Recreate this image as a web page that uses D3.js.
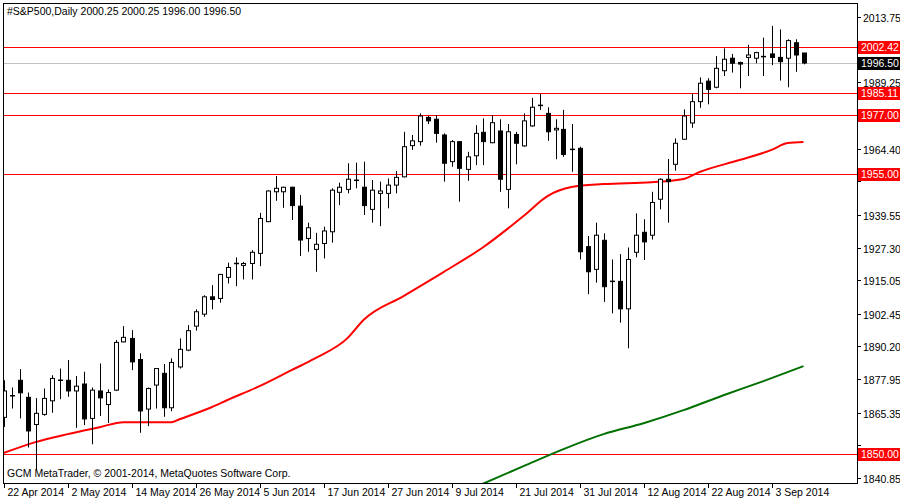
<!DOCTYPE html>
<html><head><meta charset="utf-8">
<script src="https://cdn.jsdelivr.net/npm/d3@7"></script>
<style>body{margin:0;background:#fff}svg{display:block}</style>
</head><body><svg id="c" width="900" height="500"></svg>
<script>
// OHLC per daily bar (index 0 = 22 Apr 2014)
const opens=[1863.6,1871.7,1877.5,1871.1,1860.9,1864.7,1869.8,1877.3,1877.5,1873.5,1876.1,1863.2,1873.5,1868.4,1873.8,1891.9,1893.2,1885.3,1866.7,1875.7,1880.1,1867.2,1882.5,1888.8,1897.8,1902.3,1908.8,1908.2,1916.1,1921.3,1920.6,1921.3,1925.1,1937.0,1948.2,1948.2,1949.9,1942.8,1930.7,1926.6,1928.8,1933.2,1948.0,1949.1,1952.3,1949.9,1941.6,1947.6,1947.6,1950.7,1953.8,1965.5,1967.0,1976.1,1975.4,1969.5,1959.5,1967.0,1956.6,1961.7,1970.5,1966.6,1971.0,1949.1,1969.7,1965.4,1972.9,1980.6,1977.6,1971.4,1971.6,1964.1,1964.5,1927.6,1919.1,1930.0,1914.6,1914.6,1904.3,1925.5,1933.0,1931.9,1945.4,1952.9,1958.5,1967.9,1974.0,1982.0,1989.7,1987.4,1993.6,1998.3,1996.7,1998.6,1998.3,1998.9,1999.9,1998.6,1998.3,2004.1,2000.25];
const highs=[1877.5,1874.8,1881.7,1872.9,1870.8,1874.4,1879.4,1881.9,1885.1,1879.1,1880.7,1874.8,1883.8,1874.1,1892.6,1897.8,1896.3,1887.6,1874.8,1882.0,1883.6,1885.7,1893.2,1898.2,1904.1,1909.4,1913.2,1917.4,1921.6,1923.6,1921.9,1926.3,1940.3,1948.7,1954.1,1950.1,1950.1,1947.0,1936.6,1932.8,1935.1,1949.5,1951.6,1958.9,1959.1,1959.5,1952.6,1952.0,1953.2,1956.0,1970.7,1969.5,1977.6,1976.7,1977.0,1970.1,1967.6,1967.2,1963.2,1973.2,1975.7,1977.0,1975.4,1973.6,1970.7,1977.6,1983.4,1984.9,1979.9,1975.4,1978.9,1973.6,1965.1,1931.6,1936.6,1932.6,1922.8,1924.8,1927.3,1940.1,1937.9,1948.2,1953.2,1960.5,1968.2,1979.1,1985.1,1991.1,1990.8,1999.1,2002.0,1999.9,1997.0,2003.3,2000.7,2006.0,2010.4,2009.1,2005.4,2005.4,2000.25];
const lows=[1860.0,1866.9,1863.2,1852.3,1843.8,1864.2,1865.3,1870.4,1871.3,1859.7,1860.7,1853.5,1864.1,1861.5,1873.5,1891.7,1881.3,1857.8,1860.3,1866.9,1863.8,1865.9,1881.9,1888.4,1896.1,1901.3,1904.1,1906.6,1913.8,1912.8,1915.3,1915.3,1920.3,1936.8,1944.8,1942.2,1937.6,1924.1,1925.7,1918.2,1923.2,1929.1,1943.2,1947.6,1949.5,1939.5,1936.6,1935.3,1942.0,1947.6,1953.6,1963.9,1965.5,1973.6,1966.6,1952.0,1957.6,1944.5,1952.3,1958.2,1958.2,1966.4,1948.2,1942.0,1958.5,1965.1,1972.6,1978.9,1967.3,1960.4,1961.3,1955.7,1922.8,1909.8,1914.1,1906.9,1902.6,1899.1,1889.5,1923.6,1922.6,1930.3,1941.6,1936.6,1956.1,1967.7,1972.2,1979.7,1981.0,1987.0,1991.6,1992.9,1987.0,1991.6,1996.4,1991.6,1995.7,1989.9,1987.4,1993.2,1996.00];
const closes=[1873.5,1871.5,1872.8,1858.5,1865.1,1870.7,1878.2,1877.5,1873.5,1875.3,1863.0,1873.8,1870.9,1872.9,1891.7,1893.6,1884.4,1866.0,1874.4,1881.9,1867.2,1884.2,1889.1,1896.1,1903.2,1908.8,1907.8,1917.2,1919.8,1920.8,1921.3,1925.5,1938.2,1948.5,1949.5,1949.9,1943.0,1930.1,1934.7,1928.5,1933.5,1948.8,1949.9,1952.9,1952.5,1943.0,1948.8,1948.5,1950.7,1953.6,1965.1,1967.3,1976.6,1974.8,1970.1,1958.9,1967.0,1957.0,1961.3,1970.1,1967.0,1974.1,1952.9,1970.7,1966.4,1974.8,1979.9,1980.4,1970.7,1972.0,1962.2,1964.0,1925.7,1918.2,1931.9,1912.6,1914.5,1904.3,1922.8,1931.9,1929.4,1944.2,1952.9,1952.0,1966.4,1976.6,1982.0,1988.9,1986.6,1994.5,1997.9,1996.4,1996.1,1999.5,2000.4,1998.8,1998.6,1997.0,2004.9,1999.5,1996.50];
// moving averages read at bar indices
const redMaBars=[0,4,8,12,15,21,22,26,28,32,36,39,43,45,50,55,60,65,68,71,75,81,85,87,92,96,98,100];
const redMaVals=[1850.2,1854.3,1857.3,1859.9,1861.8,1861.8,1862.9,1867.4,1870.1,1875.3,1881.3,1885.8,1893.3,1900.1,1909.1,1918.1,1927.5,1939.1,1946.6,1950.0,1951.1,1951.8,1953.0,1955.6,1960.1,1963.9,1966.5,1966.9];
const greenMaBars=[59,65,70,75,80,85,90,95,100];
const greenMaVals=[1837.5,1845.3,1851.7,1857.3,1861.4,1866.3,1871.9,1877.2,1882.8];
const levels=[2002.42,1985.11,1977.00,1955.00,1850.00];
const lastPrice=1996.50;
const priceTicks=[2013.75,2001.50,1989.25,1977.00,1964.40,1952.15,1939.55,1927.30,1915.05,1902.45,1890.20,1877.95,1865.35,1853.10,1840.85];
const dateLabels=["22 Apr 2014","2 May 2014","14 May 2014","26 May 2014","5 Jun 2014","17 Jun 2014","27 Jun 2014","9 Jul 2014","21 Jul 2014","31 Jul 2014","12 Aug 2014","22 Aug 2014","3 Sep 2014"];
const dateBars=[0,8,16,24,32,40,48,56,64,72,80,88,96];
const title="#S&P500,Daily  2000.25 2000.25 1996.00 1996.50";
const copyright="GCM MetaTrader, © 2001-2014, MetaQuotes Software Corp.";

const svg=d3.select("#c");
const L=3,R=857,T=3,B=483;
const font="'Liberation Sans', Arial, sans-serif";
const fs=10.5;
const x=d3.scaleLinear().domain([0,100]).range([3.5,803.5]);
const y=d3.scaleLinear().domain([1840.85,2013.75]).range([478,17]);
svg.append("clipPath").attr("id","pc").append("rect").attr("x",L).attr("y",T).attr("width",R-L).attr("height",B-T);
const g=svg.append("g").attr("clip-path","url(#pc)");

g.append("line").attr("x1",L).attr("x2",R).attr("y1",Math.round(y(lastPrice))+0.5).attr("y2",Math.round(y(lastPrice))+0.5).attr("stroke","#c0c0c0");
levels.forEach(v=>g.append("line").attr("x1",L).attr("x2",R).attr("y1",Math.round(y(v))+0.5).attr("y2",Math.round(y(v))+0.5).attr("stroke","#ff0000"));

const line=d3.line().x(d=>x(d[0])).y(d=>y(d[1])).curve(d3.curveMonotoneX);
g.append("path").attr("d",line(redMaBars.map((b,i)=>[b,redMaVals[i]]))).attr("fill","none").attr("stroke","#ff0000").attr("stroke-width",2);
g.append("path").attr("d",line(greenMaBars.map((b,i)=>[b,greenMaVals[i]]))).attr("fill","none").attr("stroke","#007000").attr("stroke-width",2);

opens.forEach((o,i)=>{
  const cx=Math.round(x(i))+0.5, c=closes[i];
  g.append("line").attr("x1",cx).attr("x2",cx).attr("y1",y(highs[i])).attr("y2",y(lows[i])).attr("stroke","#000");
  const top=y(Math.max(o,c)), bot=y(Math.min(o,c));
  const bull=c>=o;
  if(bot-top<1.5){
    g.append("line").attr("x1",cx-2.5).attr("x2",cx+2.5).attr("y1",top).attr("y2",top).attr("stroke","#000").attr("stroke-width",1.5);
  } else {
    g.append("rect").attr("x",cx-2).attr("y",top).attr("width",4).attr("height",bot-top)
      .attr("fill",bull?"#fff":"#000").attr("stroke","#000").attr("stroke-width",1);
  }
});

svg.append("rect").attr("x",L+0.5).attr("y",T+0.5).attr("width",R-L).attr("height",B-T).attr("fill","none").attr("stroke","#000");

svg.append("text").attr("x",7).attr("y",15).attr("font-family",font).attr("font-size",fs).text(title);
svg.append("text").attr("x",7).attr("y",477).attr("font-family",font).attr("font-size",fs).text(copyright);

// right axis
const ax=svg.append("g").attr("font-family",font).attr("font-size",fs);
const tagged=levels.concat([lastPrice]);
priceTicks.forEach(v=>{
  const yy=Math.round(y(v))+0.5;
  ax.append("line").attr("x1",R).attr("x2",R+4).attr("y1",yy).attr("y2",yy).attr("stroke","#000");
  if(tagged.some(t=>Math.abs(y(t)-y(v))<10)) return;
  ax.append("text").attr("x",R+6).attr("y",yy+4).text(v.toFixed(2));
});
function tag(v,bg){
  const yy=Math.round(y(v));
  ax.append("rect").attr("x",R+1).attr("y",yy-6).attr("width",42).attr("height",13).attr("fill",bg);
  ax.append("text").attr("x",R+4).attr("y",yy+4).attr("fill","#fff").text(v.toFixed(2));
}
levels.forEach(v=>tag(v,"#ff0000"));
tag(lastPrice,"#000");

// bottom axis
const bx=svg.append("g").attr("font-family",font).attr("font-size",fs);
dateBars.forEach((b,i)=>{
  const xx=Math.round(x(b))+0.5;
  bx.append("line").attr("x1",xx).attr("x2",xx).attr("y1",B).attr("y2",B+5).attr("stroke","#000");
  bx.append("text").attr("x",xx+3).attr("y",496).text(dateLabels[i]);
});
</script></body></html>
